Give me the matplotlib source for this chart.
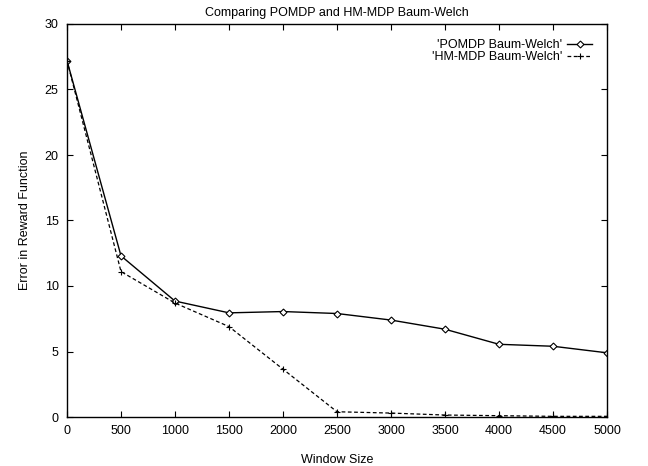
import matplotlib
matplotlib.use("Agg")
import matplotlib.pyplot as plt

window_size = [0, 500, 1000, 1500, 2000, 2500, 3000, 3500, 4000, 4500, 5000]
pomdp_err = [27.2, 12.3, 8.85, 7.95, 8.05, 7.9, 7.4, 6.7, 5.55, 5.4, 4.9]
hmmdp_err = [27.2, 11.1, 8.7, 6.9, 3.65, 0.4, 0.3, 0.15, 0.1, 0.05, 0.05]
x_ticks = [0, 500, 1000, 1500, 2000, 2500, 3000, 3500, 4000, 4500, 5000]
y_ticks = [0, 5, 10, 15, 20, 25, 30]

plt.rcParams['font.family'] = ['Liberation Sans', 'DejaVu Sans']
plt.rcParams['font.size'] = 9

fig = plt.figure(figsize=(6.48, 4.66), dpi=100)
ax = fig.add_axes([67 / 648, 1 - 417 / 466, (607 - 67) / 648, (417 - 24) / 466])

ax.plot(window_size, pomdp_err, color='black', lw=1.0, marker='D', ms=3.5,
        mfc='white', mec='black', mew=0.8, label="'POMDP Baum-Welch'")
ax.plot(window_size, hmmdp_err, color='black', lw=0.9, ls=(0, (3, 2)), marker='+',
        ms=5, mew=0.8, label="'HM-MDP Baum-Welch'")

ax.set_xlim(0, 5000)
ax.set_ylim(0, 30)
ax.set_xticks(x_ticks)
ax.set_yticks(y_ticks)
ax.tick_params(direction='in', top=True, right=True, length=4.3, width=0.8, pad=6)
for s in ax.spines.values():
    s.set_linewidth(1.0)

ax.set_title('Comparing POMDP and HM-MDP Baum-Welch', fontsize=9, pad=6)
ax.set_xlabel('Window Size', labelpad=12)
ax.set_ylabel('Error in Reward Function', labelpad=10)

ax.legend(loc='upper right', frameon=False, markerfirst=False, handlelength=2.0,
          handletextpad=0.4, labelspacing=0.0, borderaxespad=0.8)

fig.savefig('out.png', dpi=100)
